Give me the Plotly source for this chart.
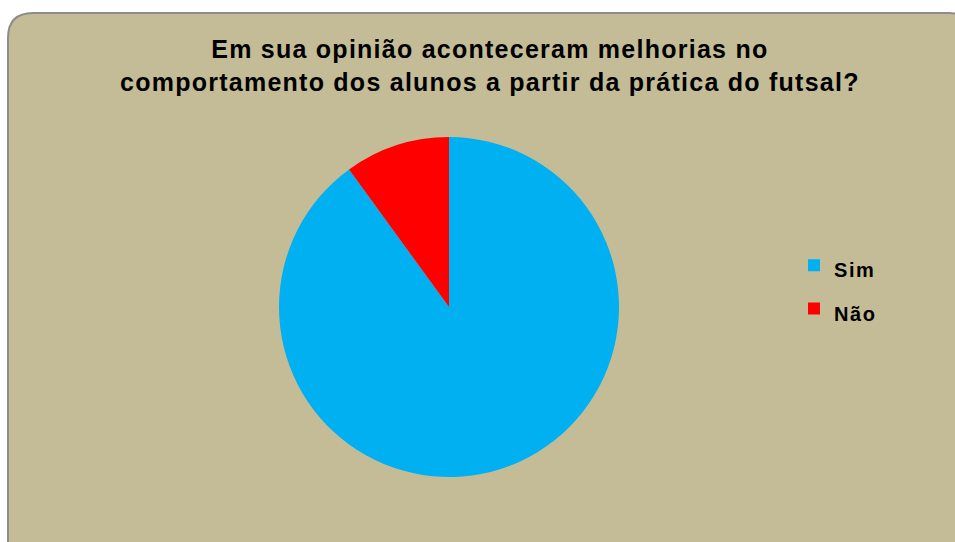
import plotly.graph_objects as go

categories = ["Sim", "Não"]
values = [90, 10]
colors = ["#00B0F0", "#FF0000"]
title_lines = ["Em sua opinião aconteceram melhorias no",
               "comportamento dos alunos a partir da prática do futsal?"]

W, H = 955, 542

legend_labels = [f"<span style='font-size:20px;letter-spacing:1.6px'>{c}</span>" for c in categories]

fig = go.Figure()
fig.add_trace(go.Pie(
    labels=legend_labels, values=values, sort=False, direction="clockwise", rotation=0,
    marker=dict(colors=colors, line=dict(width=0)),
    textinfo="none", hoverinfo="percent",
    domain=dict(x=[279 / W, 619 / W], y=[(H - 477) / H, (H - 137) / H]),
))

# rounded background panel (paper coords)
x0, x1 = 8 / W, 1.02
y0, y1 = -0.05, (H - 13) / H
r = 25
rx, ry = r / W, r / H
path = (f"M {x0+rx},{y1} L {x1-rx},{y1} Q {x1},{y1} {x1},{y1-ry} "
        f"L {x1},{y0+ry} Q {x1},{y0} {x1-rx},{y0} L {x0+rx},{y0} "
        f"Q {x0},{y0} {x0},{y0+ry} L {x0},{y1-ry} Q {x0},{y1} {x0+rx},{y1} Z")
fig.add_shape(type="path", path=path, xref="paper", yref="paper",
              fillcolor="#C4BC96", line=dict(color="#8C8C8C", width=2), layer="below")

title_text = "<br>".join(f"<span style='letter-spacing:1.25px'>{t}</span>" for t in title_lines)
fig.add_annotation(text=title_text, x=490 / W, y=(H - 33) / H, xref="paper", yref="paper",
                   xanchor="center", yanchor="top", showarrow=False, align="center",
                   font=dict(family="Liberation Sans, Arial", size=25, color="black", weight="bold"))

fig.update_layout(
    width=W, height=H, margin=dict(l=0, r=0, t=0, b=0),
    paper_bgcolor="white", plot_bgcolor="white",
    showlegend=True,
    legend=dict(x=794 / W, y=(H - 287) / H, xanchor="left", yanchor="middle",
                bgcolor="rgba(0,0,0,0)", tracegroupgap=0,
                font=dict(family="Liberation Sans, Arial", size=31, color="black", weight="bold")),
)

fig.write_html("out.html")
